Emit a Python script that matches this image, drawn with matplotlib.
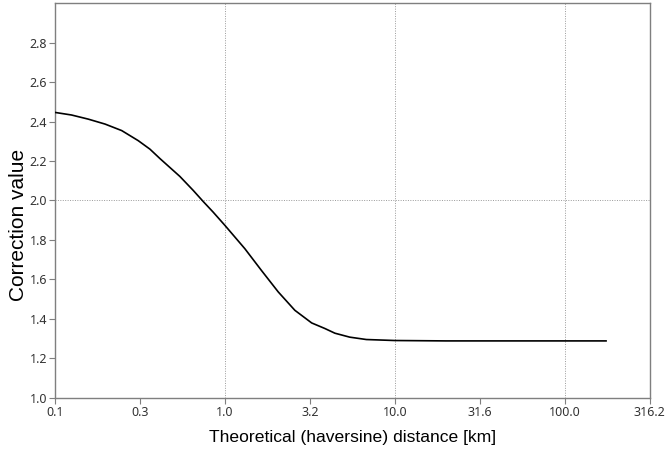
import numpy as np
import matplotlib
matplotlib.use("Agg")
import matplotlib.pyplot as plt

# values
distance_km = [0.1, 0.125, 0.157, 0.197, 0.247, 0.309, 0.362, 0.415, 0.543, 0.651,
               0.745, 0.853, 1.0, 1.31, 1.64, 2.06, 2.58, 3.24, 3.87, 4.44, 5.43,
               6.8, 10.0, 20.0, 50.0, 100.0, 175.0]
correction = [2.446, 2.433, 2.412, 2.387, 2.354, 2.303, 2.260, 2.212, 2.122, 2.051,
              1.995, 1.941, 1.874, 1.756, 1.646, 1.537, 1.444, 1.380, 1.352, 1.328,
              1.308, 1.296, 1.291, 1.289, 1.289, 1.289, 1.289]

xtick_vals = [10 ** e for e in np.arange(-1, 3.0, 0.5)]
xtick_labels = ["0.1", "0.3", "1.0", "3.2", "10.0", "31.6", "100.0", "316.2"]
ytick_vals = [1.0, 1.2, 1.4, 1.6, 1.8, 2.0, 2.2, 2.4, 2.6, 2.8]

fig = plt.figure(figsize=(6.65, 4.5), dpi=100)
ax = fig.add_axes([0.0827, 0.1156, 0.8943, 0.8777])

grid_kw = dict(color="#999999", linestyle=(0, (1, 1.5)), linewidth=0.7, zorder=1)
for gx in [1.0, 10.0, 100.0]:
    ax.axvline(gx, **grid_kw)
ax.axhline(2.0, **grid_kw)

ax.plot(distance_km, correction, color="black", linewidth=1.2, zorder=3,
        solid_joinstyle="round")

ax.set_xscale("log")
ax.set_xlim(0.1, 10 ** 2.5)
ax.set_ylim(1.0, 3.0)
ax.set_xticks(xtick_vals)
ax.set_xticklabels(xtick_labels)
ax.minorticks_off()
ax.set_yticks(ytick_vals)
ax.set_yticklabels([f"{v:.1f}" for v in ytick_vals])

for s in ax.spines.values():
    s.set_color("#7f7f7f")
    s.set_linewidth(1.0)
ax.tick_params(direction="out", length=4, width=0.8, color="#7f7f7f",
               labelsize=9, labelcolor="#333333", pad=1.5)
for lbl in ax.get_xticklabels() + ax.get_yticklabels():
    lbl.set_family("Noto Sans")

ax.set_xlabel("Theoretical (haversine) distance [km]", fontsize=12.6,
              family="Liberation Sans", labelpad=8)
ax.set_ylabel("Correction value", fontsize=15, family="Liberation Sans")
ax.yaxis.set_label_coords(-0.046, 0.438)

fig.savefig("out.png", dpi=100)
